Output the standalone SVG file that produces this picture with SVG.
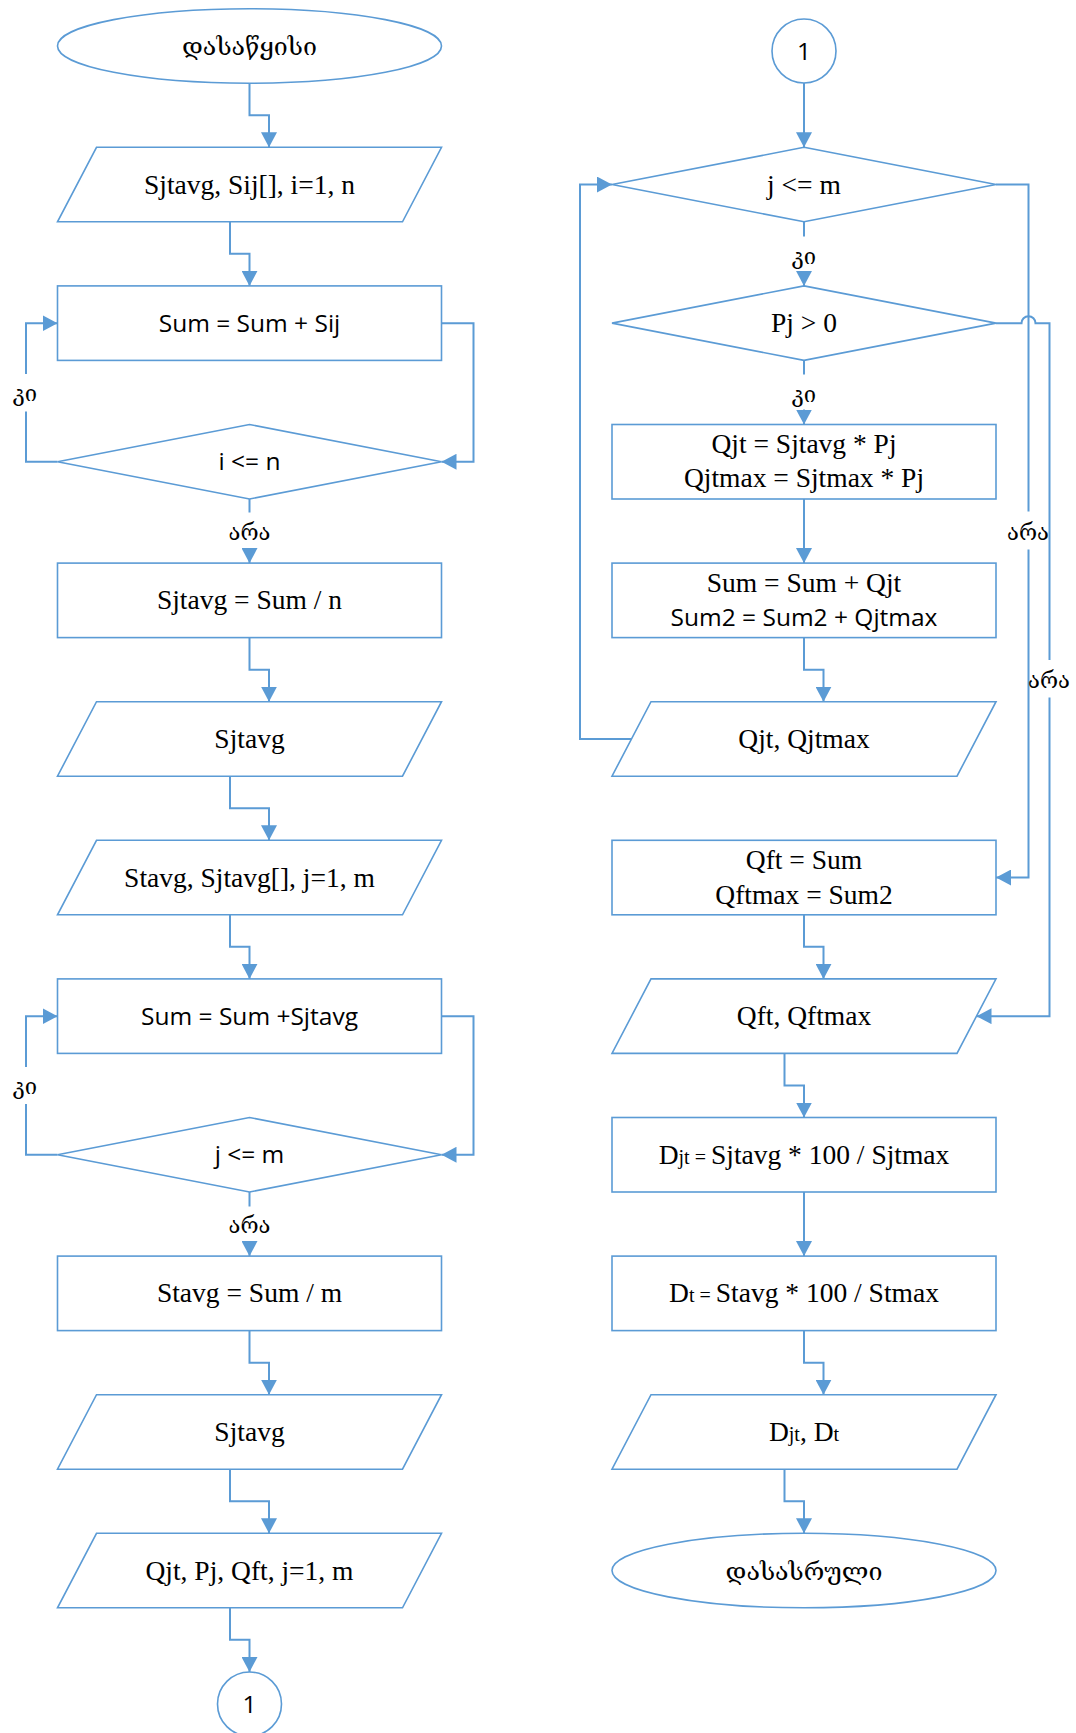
<svg xmlns="http://www.w3.org/2000/svg" width="1076" height="1733" viewBox="0 0 1076 1733">
  <defs>
    <style>
      .shape { fill: #ffffff; stroke: #5B9BD5; stroke-width: 1.6; }
      .conn { fill: none; stroke: #5B9BD5; stroke-width: 2; }
      .arrow { marker-end: url(#arr); }
      text { fill: #000000; text-anchor: middle; }
      .serif { font-family: "Liberation Serif", serif; font-size: 27.5px; }
      .sans { font-family: "Open Sans", "Noto Sans", sans-serif; font-size: 24.5px; }
      .geo { font-family: "DejaVu Serif", "DejaVu Sans", sans-serif; font-size: 22px; }
      .term { font-size: 25px; }
      .sm { font-size: 20px; }
    </style>
    <marker id="arr" viewBox="0 0 15 16" refX="15" refY="8" markerWidth="15" markerHeight="16" orient="auto" markerUnits="userSpaceOnUse">
      <path d="M0,0 L15,8 L0,16 z" fill="#5B9BD5"/>
    </marker>
  </defs>
  <rect x="0" y="0" width="1076" height="1733" fill="#ffffff"/>

  <!-- connectors -->
  <g id="connectors">
    <!-- left column -->
    <path class="conn arrow" d="M249.5,83.2 V115.25 H269 V147.3"/>
    <path class="conn arrow" d="M230,221.8 V253.85 H249.5 V285.9"/>
    <path class="conn arrow" d="M441.5,323.15 H473.5 V461.75 H441.5"/>
    <path class="conn" d="M57.5,461.75 H26 V411.5"/>
    <path class="conn arrow" d="M26,374 V323.15 H57.5"/>
    <path class="conn" d="M249.5,499 V512.5"/>
    <path class="conn arrow" d="M249.5,548 V563.1"/>
    <path class="conn arrow" d="M249.5,637.6 V669.65 H269 V701.7"/>
    <path class="conn arrow" d="M230,776.2 V808.25 H269 V840.3"/>
    <path class="conn arrow" d="M230,914.8 V946.85 H249.5 V978.9"/>
    <path class="conn arrow" d="M441.5,1016.15 H473.5 V1154.75 H441.5"/>
    <path class="conn" d="M57.5,1154.75 H26 V1104"/>
    <path class="conn arrow" d="M26,1067 V1016.15 H57.5"/>
    <path class="conn" d="M249.5,1192 V1206.5"/>
    <path class="conn arrow" d="M249.5,1241 V1256.1"/>
    <path class="conn arrow" d="M249.5,1330.6 V1362.65 H269 V1394.7"/>
    <path class="conn arrow" d="M230,1469.2 V1501.25 H269 V1533.3"/>
    <path class="conn arrow" d="M230,1607.8 V1639.85 H249.5 V1672"/>
    <!-- right column -->
    <path class="conn arrow" d="M804,83 V147.3"/>
    <path class="conn" d="M804,221.8 V236.5"/>
    <path class="conn arrow" d="M804,271 V285.9"/>
    <path class="conn" d="M804,360.4 V374.5"/>
    <path class="conn arrow" d="M804,409.5 V424.5"/>
    <path class="conn arrow" d="M804,499 V563.1"/>
    <path class="conn arrow" d="M804,637.6 V669.65 H823.5 V701.7"/>
    <path class="conn arrow" d="M631.5,738.95 H580 V184.55 H612"/>
    <path class="conn" d="M996,184.55 H1028.5 V511.5"/>
    <path class="conn arrow" d="M1028.5,549.5 V877.55 H996"/>
    <path class="conn" d="M996,323.15 H1021.5 A7,7 0 0 1 1035.5,323.15 H1049.5 V660"/>
    <path class="conn arrow" d="M1049.5,697.5 V1016.15 H976.5"/>
    <path class="conn arrow" d="M804,914.8 V946.85 H823.5 V978.9"/>
    <path class="conn arrow" d="M784.5,1053.4 V1085.45 H804 V1117.5"/>
    <path class="conn arrow" d="M804,1192 V1256.1"/>
    <path class="conn arrow" d="M804,1330.6 V1362.65 H823.5 V1394.7"/>
    <path class="conn arrow" d="M784.5,1469.2 V1501.25 H804 V1533.3"/>
    <!-- branch labels -->
    <text class="geo" x="25" y="400.5">კი</text>
    <text class="geo" x="249.5" y="539.5">არა</text>
    <text class="geo" x="25" y="1094">კი</text>
    <text class="geo" x="249.5" y="1232.5">არა</text>
    <text class="geo" x="804" y="263.5">კი</text>
    <text class="geo" x="804" y="401.5">კი</text>
    <text class="geo" x="1028" y="540">არა</text>
    <text class="geo" x="1049" y="688">არა</text>
  </g>

  <!-- left column -->
  <g id="start">
    <ellipse class="shape" cx="249.5" cy="45.95" rx="192" ry="37.25"/>
    <text class="geo term" x="249.5" y="55">დასაწყისი</text>
  </g>
  <g id="input-sij">
    <polygon class="shape" points="96.5,147.3 441.5,147.3 402.5,221.8 57.5,221.8"/>
    <text class="serif" x="249.5" y="193.5">Sjtavg, Sij[], i=1, n</text>
  </g>
  <g id="sum-sij">
    <rect class="shape" x="57.5" y="285.9" width="384" height="74.5"/>
    <text class="sans" x="249.5" y="332.2">Sum = Sum + Sij</text>
  </g>
  <g id="check-i">
    <polygon class="shape" points="249.5,424.5 441.5,461.75 249.5,499 57.5,461.75"/>
    <text class="sans" x="249.5" y="470">i &lt;= n</text>
  </g>
  <g id="avg-sjt">
    <rect class="shape" x="57.5" y="563.1" width="384" height="74.5"/>
    <text class="serif" x="249.5" y="609.3">Sjtavg = Sum / n</text>
  </g>
  <g id="output-sjtavg">
    <polygon class="shape" points="96.5,701.7 441.5,701.7 402.5,776.2 57.5,776.2"/>
    <text class="serif" x="249.5" y="748">Sjtavg</text>
  </g>
  <g id="input-stavg">
    <polygon class="shape" points="96.5,840.3 441.5,840.3 402.5,914.8 57.5,914.8"/>
    <text class="serif" x="249.5" y="886.5">Stavg, Sjtavg[], j=1, m</text>
  </g>
  <g id="sum-sjtavg">
    <rect class="shape" x="57.5" y="978.9" width="384" height="74.5"/>
    <text class="sans" x="249.5" y="1025">Sum = Sum +Sjtavg</text>
  </g>
  <g id="check-j-left">
    <polygon class="shape" points="249.5,1117.5 441.5,1154.75 249.5,1192 57.5,1154.75"/>
    <text class="sans" x="249.5" y="1163">j &lt;= m</text>
  </g>
  <g id="avg-st">
    <rect class="shape" x="57.5" y="1256.1" width="384" height="74.5"/>
    <text class="serif" x="249.5" y="1302.3">Stavg = Sum / m</text>
  </g>
  <g id="output-sjtavg-2">
    <polygon class="shape" points="96.5,1394.7 441.5,1394.7 402.5,1469.2 57.5,1469.2"/>
    <text class="serif" x="249.5" y="1441">Sjtavg</text>
  </g>
  <g id="input-q">
    <polygon class="shape" points="96.5,1533.3 441.5,1533.3 402.5,1607.8 57.5,1607.8"/>
    <text class="serif" x="249.5" y="1579.5">Qjt, Pj, Qft, j=1, m</text>
  </g>
  <g id="connector-out">
    <circle class="shape" cx="249.5" cy="1704" r="32"/>
    <text class="sans" x="249.5" y="1712.5">1</text>
  </g>

  <!-- right column -->
  <g id="connector-in">
    <circle class="shape" cx="804" cy="51" r="32"/>
    <text class="sans" x="804" y="60">1</text>
  </g>
  <g id="check-j-right">
    <polygon class="shape" points="804,147.3 996,184.55 804,221.8 612,184.55"/>
    <text class="serif" x="804" y="193.5">j &lt;= m</text>
  </g>
  <g id="check-pj">
    <polygon class="shape" points="804,285.9 996,323.15 804,360.4 612,323.15"/>
    <text class="serif" x="804" y="332">Pj &gt; 0</text>
  </g>
  <g id="calc-qjt">
    <rect class="shape" x="612" y="424.5" width="384" height="74.5"/>
    <text class="serif" x="804" y="452.7">Qjt = Sjtavg * Pj</text>
    <text class="serif" x="804" y="487.4">Qjtmax = Sjtmax * Pj</text>
  </g>
  <g id="accumulate">
    <rect class="shape" x="612" y="563.1" width="384" height="74.5"/>
    <text class="serif" x="804" y="591.5">Sum = Sum + Qjt</text>
    <text class="sans" x="804" y="626">Sum2 = Sum2 + Qjtmax</text>
  </g>
  <g id="output-qjt">
    <polygon class="shape" points="651,701.7 996,701.7 957,776.2 612,776.2"/>
    <text class="serif" x="804" y="748">Qjt, Qjtmax</text>
  </g>
  <g id="calc-qft">
    <rect class="shape" x="612" y="840.3" width="384" height="74.5"/>
    <text class="serif" x="804" y="869">Qft = Sum</text>
    <text class="serif" x="804" y="904">Qftmax = Sum2</text>
  </g>
  <g id="output-qft">
    <polygon class="shape" points="651,978.9 996,978.9 957,1053.4 612,1053.4"/>
    <text class="serif" x="804" y="1025">Qft, Qftmax</text>
  </g>
  <g id="calc-djt">
    <rect class="shape" x="612" y="1117.5" width="384" height="74.5"/>
    <text class="serif" x="804" y="1163.7">D<tspan class="sm">jt = </tspan>Sjtavg * 100 / Sjtmax</text>
  </g>
  <g id="calc-dt">
    <rect class="shape" x="612" y="1256.1" width="384" height="74.5"/>
    <text class="serif" x="804" y="1302.3">D<tspan class="sm">t = </tspan>Stavg * 100 / Stmax</text>
  </g>
  <g id="output-d">
    <polygon class="shape" points="651,1394.7 996,1394.7 957,1469.2 612,1469.2"/>
    <text class="serif" x="804" y="1441">D<tspan class="sm">jt</tspan>, D<tspan class="sm">t</tspan></text>
  </g>
  <g id="end">
    <ellipse class="shape" cx="804" cy="1570.55" rx="192" ry="37.25"/>
    <text class="geo term" x="804" y="1580">დასასრული</text>
  </g>
</svg>
